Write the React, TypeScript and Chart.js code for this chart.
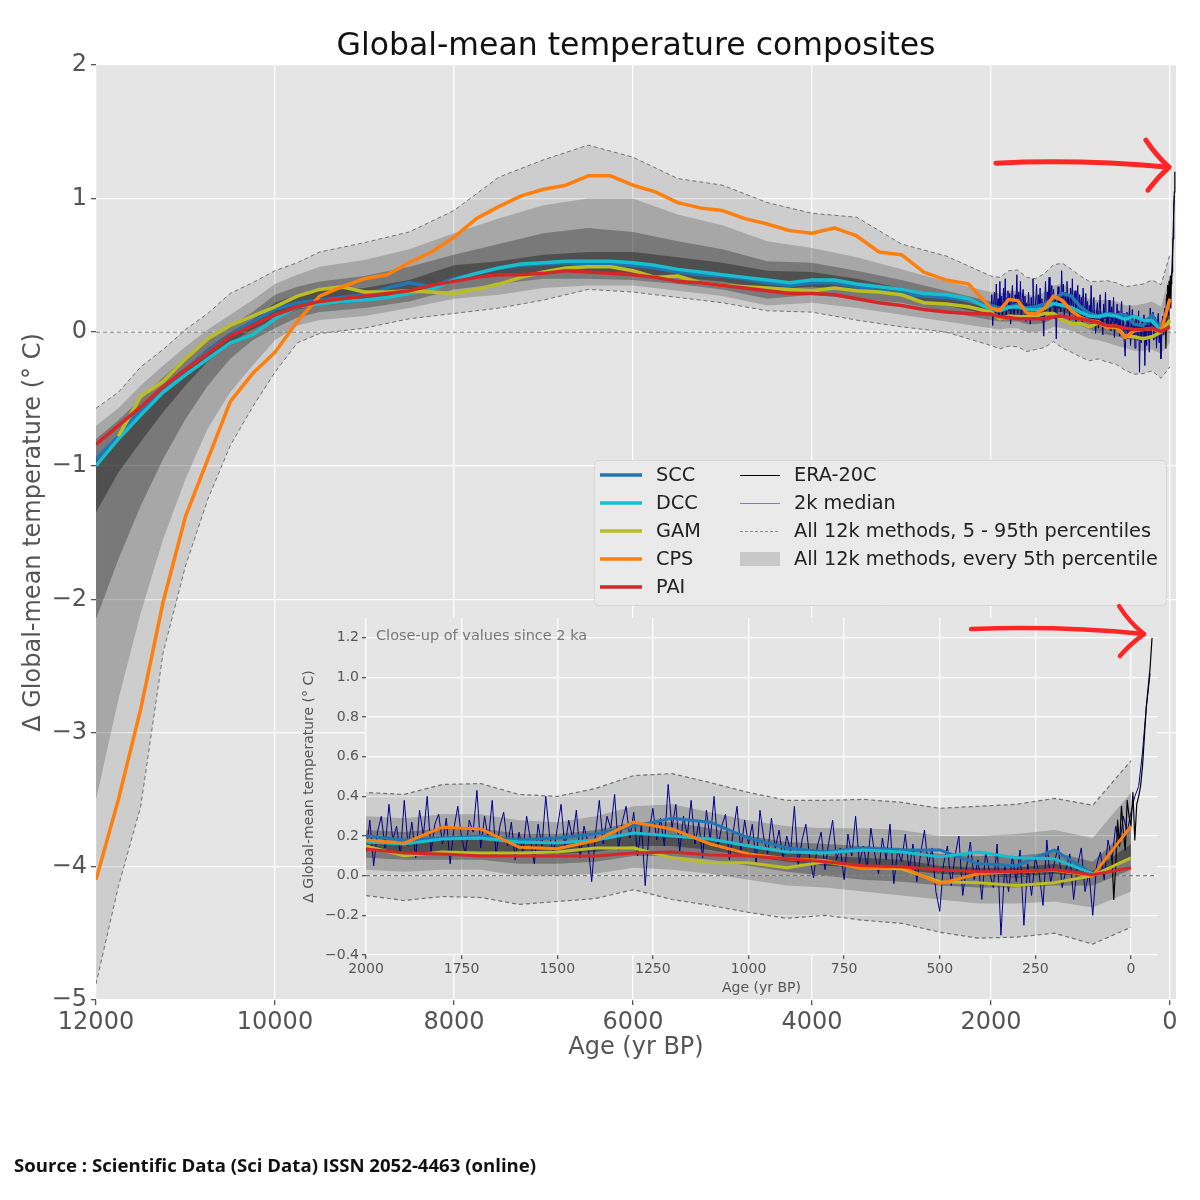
import React, { useEffect, useRef } from "react";
import { Chart, registerables } from "chart.js";

Chart.register(...registerables);

const FONT = "'DejaVu Sans', 'Liberation Sans', sans-serif";

// ---------------- axis limits & ticks ----------------
const MAIN_X_MIN = -68;
const MAIN_X_MAX = 12000;
const MAIN_Y_MIN = -5;
const MAIN_Y_MAX = 2;
const mainXTicks = [12000, 10000, 8000, 6000, 4000, 2000, 0];
const mainYTicks = [-5, -4, -3, -2, -1, 0, 1, 2];

const INSET_X_MIN = -68;
const INSET_X_MAX = 2000;
const INSET_Y_MIN = -0.4;
const INSET_Y_MAX = 1.3;
const insetXTicks = [2000, 1750, 1500, 1250, 1000, 750, 500, 250, 0];
const insetYTicks = [-0.4, -0.2, 0, 0.2, 0.4, 0.6, 0.8, 1.0, 1.2];

// ---------------- percentile envelopes (all 12k methods) ----------------
const bandAges = [12000, 11750, 11500, 11250, 11000, 10750, 10500, 10250, 10000, 9750, 9500, 9000, 8500, 8000, 7500, 7000, 6500, 6000, 5500, 5000, 4500, 4000, 3500, 3000, 2500,
  2000, 1900, 1800, 1700, 1600, 1500, 1400, 1300, 1200, 1100, 1000, 900, 800, 700, 600, 500, 400, 300, 200, 100, 0];
const p95 = [-0.57, -0.45, -0.26, -0.13, 0.02, 0.14, 0.29, 0.37, 0.46, 0.52, 0.60, 0.67, 0.75, 0.91, 1.16, 1.29, 1.40, 1.31, 1.15, 1.10, 0.97, 0.89, 0.86, 0.66, 0.57,
  0.42, 0.41, 0.46, 0.465, 0.41, 0.40, 0.44, 0.505, 0.515, 0.47, 0.42, 0.38, 0.38, 0.385, 0.37, 0.34, 0.35, 0.36, 0.39, 0.355, 0.58];
const p80 = [-0.70, -0.57, -0.40, -0.25, -0.11, 0.02, 0.13, 0.24, 0.36, 0.43, 0.49, 0.54, 0.62, 0.74, 0.85, 0.95, 1.00, 1.00, 0.88, 0.80, 0.68, 0.63, 0.56, 0.47, 0.38,
  0.30, 0.29, 0.31, 0.31, 0.28, 0.27, 0.30, 0.35, 0.36, 0.32, 0.28, 0.25, 0.24, 0.24, 0.23, 0.20, 0.20, 0.21, 0.23, 0.19, 0.42];
const p65 = [-0.80, -0.66, -0.50, -0.34, -0.19, -0.06, 0.05, 0.15, 0.28, 0.34, 0.38, 0.42, 0.49, 0.58, 0.66, 0.74, 0.78, 0.75, 0.68, 0.62, 0.53, 0.52, 0.46, 0.39, 0.31,
  0.23, 0.22, 0.24, 0.24, 0.21, 0.21, 0.23, 0.27, 0.27, 0.24, 0.20, 0.17, 0.16, 0.15, 0.14, 0.11, 0.10, 0.10, 0.12, 0.07, 0.25];
const p55 = [-0.95, -0.78, -0.60, -0.43, -0.27, -0.12, 0.00, 0.09, 0.22, 0.28, 0.31, 0.33, 0.39, 0.50, 0.53, 0.58, 0.60, 0.60, 0.56, 0.52, 0.46, 0.45, 0.40, 0.33, 0.26,
  0.18, 0.17, 0.18, 0.18, 0.16, 0.16, 0.17, 0.21, 0.21, 0.18, 0.15, 0.12, 0.10, 0.09, 0.08, 0.05, 0.04, 0.04, 0.06, 0.025, 0.16];
const p45 = [-1.35, -1.05, -0.82, -0.60, -0.40, -0.22, -0.08, 0.02, 0.10, 0.17, 0.20, 0.23, 0.29, 0.39, 0.42, 0.45, 0.45, 0.44, 0.41, 0.38, 0.32, 0.34, 0.31, 0.27, 0.20,
  0.13, 0.12, 0.12, 0.12, 0.11, 0.11, 0.12, 0.15, 0.15, 0.13, 0.10, 0.07, 0.05, 0.04, 0.03, 0.01, 0.00, -0.01, 0.01, -0.01, 0.09];
const p35 = [-2.15, -1.70, -1.30, -0.95, -0.65, -0.40, -0.20, -0.06, 0.03, 0.11, 0.15, 0.18, 0.23, 0.32, 0.36, 0.40, 0.40, 0.39, 0.36, 0.32, 0.25, 0.28, 0.25, 0.22, 0.15,
  0.09, 0.08, 0.08, 0.08, 0.06, 0.06, 0.07, 0.10, 0.10, 0.08, 0.05, 0.02, 0.00, -0.02, -0.03, -0.05, -0.06, -0.06, -0.05, -0.05, 0.03];
const p20 = [-3.50, -2.75, -2.10, -1.55, -1.10, -0.72, -0.45, -0.25, -0.06, 0.05, 0.09, 0.12, 0.18, 0.25, 0.28, 0.33, 0.35, 0.35, 0.31, 0.27, 0.20, 0.22, 0.18, 0.13, 0.08,
  0.03, 0.02, 0.03, 0.03, 0.00, 0.00, 0.01, 0.04, 0.03, 0.01, -0.02, -0.05, -0.06, -0.08, -0.10, -0.12, -0.14, -0.14, -0.13, -0.16, -0.08];
const p5 = [-4.88, -4.15, -3.55, -2.40, -1.75, -1.25, -0.85, -0.56, -0.30, -0.08, -0.01, 0.03, 0.10, 0.14, 0.18, 0.24, 0.32, 0.30, 0.26, 0.22, 0.16, 0.15, 0.09, 0.04, 0.00,
  -0.10, -0.125, -0.105, -0.11, -0.145, -0.13, -0.115, -0.07, -0.12, -0.15, -0.185, -0.215, -0.20, -0.225, -0.24, -0.285, -0.315, -0.31, -0.29, -0.345, -0.26];

// ---------------- method composites ----------------
const lineAges = [12000, 11750, 11500, 11250, 11000, 10750, 10500, 10250, 10000, 9750, 9500, 9250, 9000, 8750, 8500, 8250, 8000, 7750, 7500, 7250,
  7000, 6750, 6500, 6250, 6000, 5750, 5500, 5250, 5000, 4750, 4500, 4250, 4000, 3750, 3500, 3250, 3000, 2750, 2500, 2250,
  2000, 1900, 1800, 1700, 1600, 1500, 1400, 1300, 1200, 1100, 1000, 900, 800, 700, 600, 500, 400, 300, 200, 100, 0];
const scc = [-0.95, -0.78, -0.58, -0.42, -0.28, -0.14, -0.02, 0.08, 0.17, 0.22, 0.24, 0.26, 0.28, 0.33, 0.37, 0.34, 0.40, 0.44, 0.48, 0.50,
  0.51, 0.52, 0.51, 0.51, 0.50, 0.48, 0.45, 0.43, 0.42, 0.40, 0.37, 0.35, 0.37, 0.37, 0.34, 0.31, 0.29, 0.27, 0.26, 0.24,
  0.20, 0.18, 0.19, 0.20, 0.18, 0.19, 0.21, 0.25, 0.29, 0.27, 0.19, 0.14, 0.12, 0.14, 0.13, 0.13, 0.06, 0.05, 0.13, 0.01, null];
const dcc = [-1.00, -0.80, -0.62, -0.45, -0.32, -0.20, -0.08, -0.02, 0.10, 0.19, 0.21, 0.23, 0.24, 0.26, 0.29, 0.32, 0.39, 0.44, 0.48, 0.51,
  0.52, 0.53, 0.53, 0.53, 0.52, 0.50, 0.47, 0.45, 0.43, 0.41, 0.39, 0.37, 0.39, 0.39, 0.36, 0.34, 0.32, 0.29, 0.28, 0.25,
  0.17, 0.16, 0.185, 0.19, 0.17, 0.165, 0.18, 0.215, 0.20, 0.185, 0.15, 0.12, 0.115, 0.13, 0.12, 0.095, 0.12, 0.09, 0.085, 0.01, null];
const gam = [null, -0.78, -0.48, -0.37, -0.20, -0.05, 0.05, 0.12, 0.19, 0.27, 0.32, 0.34, 0.30, 0.30, 0.31, 0.30, 0.29, 0.32, 0.36, 0.41,
  0.45, 0.48, 0.49, 0.49, 0.46, 0.41, 0.42, 0.37, 0.35, 0.34, 0.33, 0.32, 0.31, 0.33, 0.31, 0.30, 0.28, 0.22, 0.21, 0.19,
  0.15, 0.10, 0.12, 0.115, 0.115, 0.12, 0.14, 0.14, 0.09, 0.065, 0.065, 0.04, 0.07, 0.04, 0.035, -0.03, -0.035, -0.05, -0.035, 0.0, 0.09];
const cps = [-4.10, -3.50, -2.82, -2.02, -1.38, -0.95, -0.52, -0.31, -0.15, 0.08, 0.27, 0.34, 0.40, 0.43, 0.52, 0.60, 0.71, 0.85, 0.94, 1.02,
  1.07, 1.10, 1.17, 1.17, 1.10, 1.05, 0.97, 0.93, 0.91, 0.85, 0.81, 0.76, 0.74, 0.78, 0.72, 0.60, 0.58, 0.45, 0.39, 0.36,
  0.18, 0.164, 0.245, 0.236, 0.144, 0.136, 0.178, 0.27, 0.236, 0.16, 0.11, 0.085, 0.077, 0.035, 0.044, -0.04, 0.01, 0.02, 0.027, 0.0, 0.25];
const pai = [-0.84, -0.70, -0.56, -0.41, -0.28, -0.16, -0.03, 0.05, 0.13, 0.19, 0.23, 0.25, 0.27, 0.29, 0.31, 0.35, 0.38, 0.41, 0.43, 0.43,
  0.44, 0.46, 0.45, 0.44, 0.43, 0.41, 0.38, 0.37, 0.35, 0.33, 0.31, 0.29, 0.29, 0.28, 0.25, 0.22, 0.20, 0.17, 0.15, 0.14,
  0.135, 0.115, 0.11, 0.10, 0.10, 0.10, 0.10, 0.115, 0.12, 0.105, 0.10, 0.085, 0.07, 0.05, 0.045, 0.03, 0.02, 0.02, 0.03, 0.005, 0.04];

// ---------------- 2k median (decadal, 2000 yr BP -> -50 yr BP) ----------------
const median2kFirstAge = 2000;
const median2kStep = 10;
const median2k = [
  0.12, 0.28, 0.05, 0.22, 0.30, 0.14, 0.36, 0.18, 0.25, 0.10,
  0.38, 0.15, 0.27, 0.09, 0.33, 0.20, 0.40, 0.12, 0.26, 0.31,
  0.16, 0.29, 0.06, 0.24, 0.35, 0.19, 0.11, 0.28, 0.22, 0.43,
  0.14, 0.30, 0.18, 0.38, 0.10, 0.25, 0.32, 0.15, 0.27, 0.08,
  0.22, 0.12, 0.30, 0.18, 0.06, 0.26, 0.15, 0.40, 0.20, 0.11,
  0.24, 0.36, 0.14, 0.28, 0.19, 0.33, 0.09, 0.25, 0.17, -0.03,
  0.21, 0.38, 0.16, 0.30, 0.24, 0.41, 0.13, 0.27, 0.35, 0.19,
  0.32, 0.10, 0.26, -0.05, 0.22, 0.34, 0.18, 0.29, 0.15, 0.46,
  0.24, 0.36, 0.12, 0.30, 0.20, 0.38, 0.16, 0.27, 0.09, 0.33,
  0.18, 0.40, 0.14, 0.25, 0.31, 0.08, 0.22, 0.35, 0.12, 0.28,
  0.16, 0.26, 0.06, 0.33, 0.19, 0.11, 0.29, 0.14, 0.23, 0.08,
  0.20, 0.12, 0.35, 0.05, 0.18, 0.26, 0.09, -0.01, 0.15, 0.22,
  0.03, 0.17, 0.28, 0.08, 0.14, -0.02, 0.21, 0.10, 0.30, 0.06,
  0.15, 0.04, 0.24, 0.11, 0.01, 0.19, 0.08, 0.26, -0.04, 0.13,
  0.07, 0.21, 0.02, 0.16, -0.03, 0.11, 0.23, 0.05, 0.14, -0.08,
  -0.18, 0.06, 0.15, -0.05, 0.10, 0.20, -0.10, 0.04, 0.17, -0.02,
  0.08, -0.12, 0.12, 0.02, -0.06, 0.16, -0.30, 0.05, -0.08, 0.10,
  -0.03, 0.13, -0.25, 0.06, -0.10, 0.09, 0.01, -0.15, 0.18, -0.04,
  0.07, 0.15, -0.06, 0.03, 0.11, -0.12, 0.05, 0.14, -0.08, 0.02,
  -0.20, 0.05, 0.12, -0.02, 0.18, 0.08, 0.25, 0.15, 0.30, 0.22,
  0.32, 0.40, 0.45, 0.62, 0.85, 1.02,
];

// ---------------- ERA-20C ----------------
const eraAges = [50, 45, 40, 35, 30, 25, 20, 15, 10, 5, 0, -5, -10, -15, -20, -25, -30, -35, -40, -45, -50, -55];
const era20c = [0.10, -0.12, 0.05, 0.28, 0.15, 0.35, 0.22, 0.13, 0.38, 0.30, 0.25, 0.42, 0.18, 0.36, 0.40, 0.45, 0.55, 0.70, 0.85, 0.95, 1.05, 1.20];

// ---------------- legend ----------------
const legendLeft = [
  { label: "SCC", color: "#1f77b4" },
  { label: "DCC", color: "#17becf" },
  { label: "GAM", color: "#bcbd22" },
  { label: "CPS", color: "#ff7f0e" },
  { label: "PAI", color: "#d62728" },
];
const legendRight = [
  { label: "ERA-20C", kind: "thin", color: "#000000" },
  { label: "2k median", kind: "thin", color: "#7b7bd8" },
  { label: "All 12k methods, 5 - 95th percentiles", kind: "dash", color: "#8a8a8a" },
  { label: "All 12k methods, every 5th percentile", kind: "box", color: "#c8c8c8" },
];

// annotation arrows (data coordinates: [age, temperature])
const mainArrow = { start: [1944, 1.265], mid: [1006, 1.272], tip: [11, 1.235], headTop: [268, 1.437], headBottom: [246, 1.063] };
const insetArrow = { start: [418, 1.244], mid: [186, 1.246], tip: [-34, 1.219], headTop: [31, 1.36], headBottom: [29, 1.108] };

const COLORS = { scc: "#1f77b4", dcc: "#17becf", gam: "#bcbd22", cps: "#ff7f0e", pai: "#d62728", navy: "#00008b" };

function pts(xs: number[], ys: (number | null)[]) {
  const out: { x: number; y: number }[] = [];
  xs.forEach((x, i) => {
    const y = ys[i];
    if (y !== null && y !== undefined) out.push({ x, y });
  });
  return out;
}

function median2kPoints() {
  return median2k.map((y, i) => ({ x: median2kFirstAge - i * median2kStep, y }));
}

function buildDatasets(lw: number, dashW: number, xMin: number, xMax: number): any[] {
  const band = (vals: number[], target: number | false, alpha: number, dashed: boolean, order: number) => ({
    data: pts(bandAges, vals),
    borderColor: dashed ? "#707070" : "rgba(0,0,0,0)",
    borderWidth: dashed ? dashW : 1,
    borderDash: dashed ? [4, 3] : [],
    backgroundColor: alpha > 0 ? `rgba(0,0,0,${alpha})` : "rgba(0,0,0,0)",
    fill: target,
    pointRadius: 0,
    tension: 0,
    order,
  });
  const line = (data: any[], color: string, width: number, order: number) => ({
    data,
    borderColor: color,
    borderWidth: width,
    pointRadius: 0,
    fill: false,
    tension: 0,
    borderJoinStyle: "round",
    order,
  });
  return [
    band(p95, 1, 0.1, true, 40),
    band(p5, false, 0, true, 40),
    band(p80, 3, 0.19, false, 41),
    band(p20, false, 0, false, 41),
    band(p65, 5, 0.27, false, 42),
    band(p35, false, 0, false, 42),
    band(p55, 7, 0.34, false, 43),
    band(p45, false, 0, false, 43),
    { ...line([{ x: xMax, y: 0 }, { x: xMin, y: 0 }], "#7a7a7a", dashW, 20), borderDash: [4, 3] },
    line(median2kPoints(), COLORS.navy, 1, 12),
    line(pts(eraAges, era20c), "#000000", 1.2, 11),
    line(pts(lineAges, scc), COLORS.scc, lw, 6),
    line(pts(lineAges, dcc), COLORS.dcc, lw, 5),
    line(pts(lineAges, gam), COLORS.gam, lw, 4),
    line(pts(lineAges, cps), COLORS.cps, lw, 3),
    line(pts(lineAges, pai), COLORS.pai, lw, 2),
  ];
}

const bgPlugin = {
  id: "plotBg",
  beforeDraw(chart: any) {
    const { ctx, chartArea: a } = chart;
    ctx.save();
    ctx.fillStyle = "#e5e5e5";
    ctx.fillRect(a.left, a.top, a.right - a.left, a.bottom - a.top);
    ctx.restore();
  },
};

function drawArrow(chart: any, arrow: any, width: number) {
  const { ctx } = chart;
  const xs = chart.scales.x;
  const ys = chart.scales.y;
  const P = (p: number[]) => [xs.getPixelForValue(p[0]), ys.getPixelForValue(p[1])];
  const s = P(arrow.start), m = P(arrow.mid), t = P(arrow.tip), ht = P(arrow.headTop), hb = P(arrow.headBottom);
  ctx.save();
  ctx.strokeStyle = "#ff2626";
  ctx.lineWidth = width;
  ctx.lineCap = "round";
  ctx.lineJoin = "round";
  ctx.beginPath();
  ctx.moveTo(s[0], s[1]);
  ctx.quadraticCurveTo(m[0], m[1] - 3, t[0], t[1]);
  ctx.stroke();
  ctx.beginPath();
  ctx.moveTo(ht[0], ht[1]);
  ctx.quadraticCurveTo(ht[0] + 10, t[1] - 12, t[0], t[1]);
  ctx.quadraticCurveTo(hb[0] + 10, t[1] + 10, hb[0], hb[1]);
  ctx.stroke();
  ctx.restore();
}

const minusFmt = (s: string) => s.replace("-", "\u2212");

const mainDecor = {
  id: "mainDecor",
  afterDraw(chart: any) {
    const { ctx, chartArea: a } = chart;
    const cx = (a.left + a.right) / 2;
    const cy = (a.top + a.bottom) / 2;
    ctx.save();
    // title
    ctx.fillStyle = "#111";
    ctx.font = `31.5px ${FONT}`;
    ctx.textAlign = "center";
    ctx.textBaseline = "middle";
    ctx.fillText("Global-mean temperature composites", cx, 47);
    // x label
    ctx.fillStyle = "#555";
    ctx.font = `24px ${FONT}`;
    ctx.fillText("Age (yr BP)", cx, 1048);
    // y label
    ctx.save();
    ctx.translate(34, cy);
    ctx.rotate(-Math.PI / 2);
    ctx.fillText("\u0394 Global-mean temperature (\u00b0 C)", 0, 0);
    ctx.restore();

    // legend
    const L = { x: 594, y: 460, w: 572, h: 145 };
    ctx.fillStyle = "rgba(234,234,234,0.95)";
    ctx.strokeStyle = "#d6d6d6";
    ctx.lineWidth = 1;
    ctx.beginPath();
    (ctx as any).roundRect(L.x + 0.5, L.y + 0.5, L.w, L.h, 4);
    ctx.fill();
    ctx.stroke();
    ctx.font = `19.3px ${FONT}`;
    ctx.textAlign = "left";
    ctx.textBaseline = "middle";
    legendLeft.forEach((e, i) => {
      const y = 475 + i * 28;
      ctx.strokeStyle = e.color;
      ctx.lineWidth = 3.5;
      ctx.beginPath();
      ctx.moveTo(600, y);
      ctx.lineTo(642, y);
      ctx.stroke();
      ctx.fillStyle = "#222";
      ctx.fillText(e.label, 656, y + 1);
    });
    legendRight.forEach((e, i) => {
      const y = 475 + i * 28;
      if (e.kind === "box") {
        ctx.fillStyle = e.color;
        ctx.fillRect(740, y - 7, 40, 14);
      } else {
        ctx.strokeStyle = e.color;
        ctx.lineWidth = 1;
        ctx.setLineDash(e.kind === "dash" ? [3, 2] : []);
        ctx.beginPath();
        ctx.moveTo(740, y + 0.5);
        ctx.lineTo(780, y + 0.5);
        ctx.stroke();
        ctx.setLineDash([]);
      }
      ctx.fillStyle = "#222";
      ctx.fillText(e.label, 794, y + 1);
    });

    // source
    ctx.fillStyle = "#111";
    ctx.font = `700 18.6px 'Open Sans', sans-serif`;
    ctx.textAlign = "left";
    ctx.fillText("Source : Scientific Data (Sci Data) ISSN 2052-4463 (online)", 14, 1167);
    ctx.restore();

    drawArrow(chart, mainArrow, 5);
  },
};

const insetDecor = {
  id: "insetDecor",
  afterDraw(chart: any) {
    const { ctx, chartArea: a } = chart;
    ctx.save();
    ctx.fillStyle = "#777";
    ctx.font = `14.5px ${FONT}`;
    ctx.textAlign = "left";
    ctx.textBaseline = "middle";
    ctx.fillText("Close-up of values since 2 ka", a.left + 10, a.top + 18);
    ctx.fillStyle = "#555";
    ctx.font = `14px ${FONT}`;
    ctx.textAlign = "center";
    ctx.fillText("Age (yr BP)", (a.left + a.right) / 2, 388);
    ctx.save();
    ctx.translate(29, (a.top + a.bottom) / 2);
    ctx.rotate(-Math.PI / 2);
    ctx.fillText("\u0394 Global-mean temperature (\u00b0 C)", 0, 0);
    ctx.restore();
    ctx.restore();
    drawArrow(chart, insetArrow, 4.5);
  },
};

function axisCommon(fontSize: number) {
  return {
    grid: { color: "#ffffff", lineWidth: 1.3, tickColor: "#555", tickLength: 5, drawTicks: true },
    border: { display: false },
    ticks: { color: "#555", font: { family: FONT, size: fontSize }, padding: 3, autoSkip: false, maxRotation: 0 },
  };
}

export default function App() {
  const mainRef = useRef<HTMLCanvasElement>(null);
  const insetRef = useRef<HTMLCanvasElement>(null);

  useEffect(() => {
    Chart.defaults.font.family = FONT;
    const mc = axisCommon(24);
    const main = new Chart(mainRef.current!, {
      type: "line",
      data: { datasets: buildDatasets(3.5, 1, MAIN_X_MIN, MAIN_X_MAX) },
      options: {
        responsive: false,
        animation: false,
        devicePixelRatio: 1,
        events: [],
        layout: { padding: { top: 65, right: 24, left: 0, bottom: 0 } },
        plugins: { legend: { display: false }, tooltip: { enabled: false }, title: { display: false }, filler: { drawTime: "beforeDatasetsDraw", propagate: false } } as any,
        scales: {
          x: {
            type: "linear",
            reverse: true,
            min: MAIN_X_MIN,
            max: MAIN_X_MAX,
            ...mc,
            afterBuildTicks: (s: any) => { s.ticks = mainXTicks.map((v) => ({ value: v })); },
            afterFit: (s: any) => { s.height = 200; },
            ticks: { ...mc.ticks, callback: (v: any) => String(v) },
          },
          y: {
            type: "linear",
            min: MAIN_Y_MIN,
            max: MAIN_Y_MAX,
            ...mc,
            afterBuildTicks: (s: any) => { s.ticks = mainYTicks.map((v) => ({ value: v })); },
            afterFit: (s: any) => { s.width = 96; },
            ticks: { ...mc.ticks, padding: 4, callback: (v: any) => minusFmt(String(v)) },
          },
        } as any,
      },
      plugins: [bgPlugin, mainDecor],
    } as any);

    const ic = axisCommon(14);
    const inset = new Chart(insetRef.current!, {
      type: "line",
      data: { datasets: buildDatasets(3, 1.2, INSET_X_MIN, INSET_X_MAX) },
      options: {
        responsive: false,
        animation: false,
        devicePixelRatio: 1,
        events: [],
        layout: { padding: { top: 18, right: 23, left: 0, bottom: 0 } },
        plugins: { legend: { display: false }, tooltip: { enabled: false }, title: { display: false }, filler: { drawTime: "beforeDatasetsDraw", propagate: false } } as any,
        scales: {
          x: {
            type: "linear",
            reverse: true,
            min: INSET_X_MIN,
            max: INSET_X_MAX,
            ...ic,
            grid: { ...ic.grid, tickLength: 4 },
            afterBuildTicks: (s: any) => { s.ticks = insetXTicks.map((v) => ({ value: v })); },
            afterFit: (s: any) => { s.height = 65; },
            ticks: { ...ic.ticks, padding: 2, callback: (v: any) => String(v) },
          },
          y: {
            type: "linear",
            min: INSET_Y_MIN,
            max: INSET_Y_MAX,
            ...ic,
            grid: { ...ic.grid, tickLength: 4 },
            afterBuildTicks: (s: any) => { s.ticks = insetYTicks.map((v) => ({ value: v })); },
            afterFit: (s: any) => { s.width = 86; },
            ticks: { ...ic.ticks, padding: 3, callback: (v: any) => minusFmt(Number(v).toFixed(1)) },
          },
        } as any,
      },
      plugins: [bgPlugin, insetDecor],
    } as any);

    return () => {
      main.destroy();
      inset.destroy();
    };
  }, []);

  return (
    <div style={{ position: "absolute", left: 0, top: 0, width: 1200, height: 1200, background: "#ffffff", overflow: "hidden" }}>
      <canvas ref={mainRef} width={1200} height={1200} style={{ position: "absolute", left: 0, top: 0, width: 1200, height: 1200 }} />
      <canvas ref={insetRef} width={900} height={420} style={{ position: "absolute", left: 280, top: 600, width: 900, height: 420 }} />
    </div>
  );
}
